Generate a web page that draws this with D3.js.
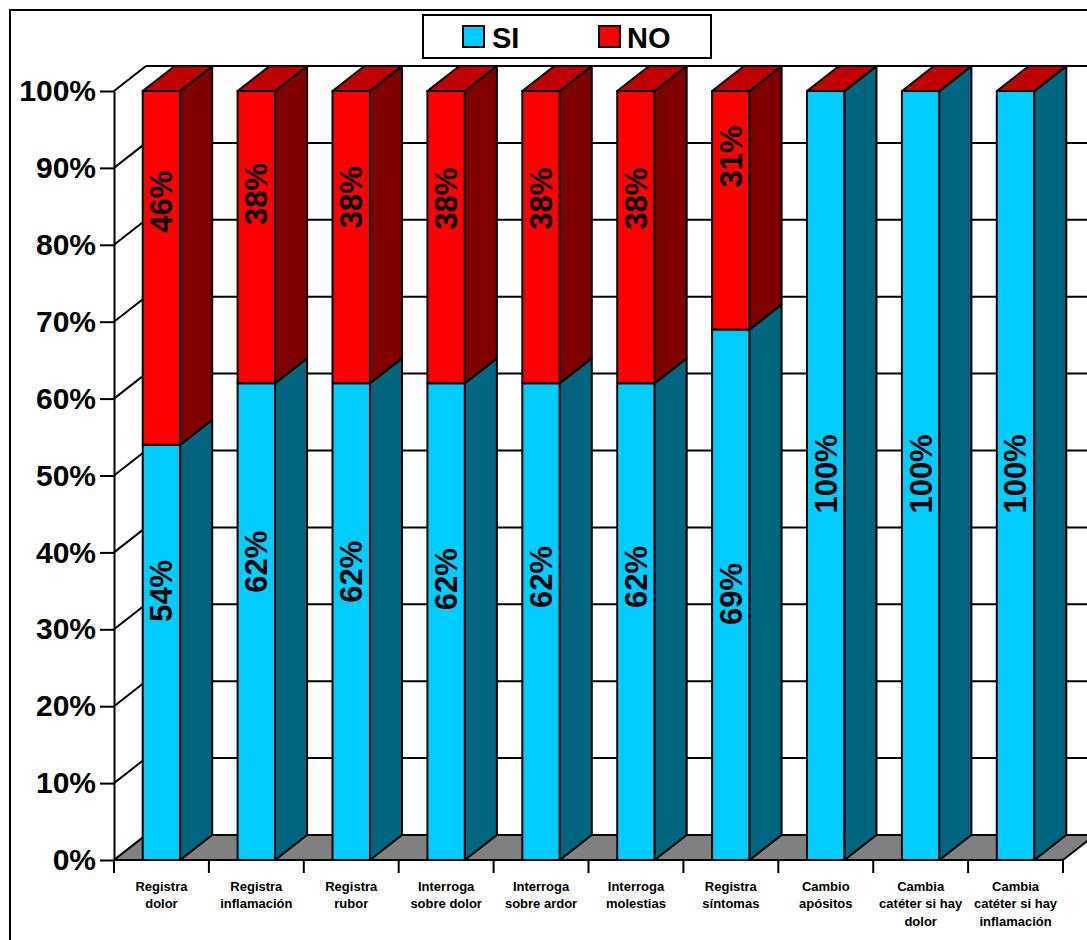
<!DOCTYPE html>
<html>
<head>
<meta charset="utf-8">
<script src="https://cdn.jsdelivr.net/npm/d3@7"></script>
<style>
  html, body { margin: 0; padding: 0; background: #fff; }
  svg { display: block; font-family: "Liberation Sans", Arial, Helvetica, sans-serif; }
</style>
</head>
<body>
<svg id="chart" width="1087" height="940"></svg>
<script>
// ---- data ----
const categories = [
  "Registra\ndolor",
  "Registra\ninflamación",
  "Registra\nrubor",
  "Interroga\nsobre dolor",
  "Interroga\nsobre ardor",
  "Interroga\nmolestias",
  "Registra\nsíntomas",
  "Cambio\napósitos",
  "Cambia\ncatéter si hay\ndolor",
  "Cambia\ncatéter si hay\ninflamación"
];
const siValues = [54, 62, 62, 62, 62, 62, 69, 100, 100, 100];
const noValues = [46, 38, 38, 38, 38, 38, 31, 0, 0, 0];
const seriesNames = ["SI", "NO"];
const yTicks = [0, 10, 20, 30, 40, 50, 60, 70, 80, 90, 100];

// ---- layout ----
const plot = { left: 114, right: 1063, top: 91, bottom: 860 };
const depth = { dx: 32, dy: -25 };
// where each value label sits along the axis (percent units)
const siLabelAt = [35, 38.8, 37.5, 36.5, 36.8, 36.8, 34.6, 50.2, 50.2, 50.2];
const noLabelAt = [85.6, 86.6, 86.2, 86, 86, 86, 91.5, 0, 0, 0];

const colors = {
  SI: { front: "#00CCFF", side: "#006680", top: "#33D6FF" },
  NO: { front: "#FF0000", side: "#800000", top: "#C00000" },
  floor: "#808080"
};

const svg = d3.select("#chart");

const y = d3.scaleLinear().domain([0, 100]).range([plot.bottom, plot.top]);
const x = d3.scaleBand().domain(categories).range([plot.left, plot.right]).padding(0);
const barW = x.bandwidth() * 0.395;

// outer frame
svg.append("rect")
  .attr("x", 10).attr("y", 10).attr("width", 1100).attr("height", 960)
  .attr("fill", "#fff").attr("stroke", "#000").attr("stroke-width", 2);

const g = svg.append("g");

// back wall gridlines and left wall diagonals
const backRight = plot.right + depth.dx;
yTicks.forEach(v => {
  g.append("line")
    .attr("x1", plot.left + depth.dx).attr("x2", backRight)
    .attr("y1", y(v) + depth.dy).attr("y2", y(v) + depth.dy)
    .attr("stroke", "#000").attr("stroke-width", 2);
  g.append("line")
    .attr("x1", plot.left).attr("x2", plot.left + depth.dx)
    .attr("y1", y(v)).attr("y2", y(v) + depth.dy)
    .attr("stroke", "#000").attr("stroke-width", 2);
});

// floor
const y0 = y(0);
g.append("path")
  .attr("d", `M${plot.left},${y0}L${plot.right},${y0}L${plot.right + depth.dx},${y0 + depth.dy}L${plot.left + depth.dx},${y0 + depth.dy}Z`)
  .attr("fill", colors.floor).attr("stroke", "#000").attr("stroke-width", 2)
  .attr("stroke-linejoin", "round");

// y axis
const yAxis = d3.axisLeft(y)
  .tickValues(yTicks)
  .tickFormat(d => d + "%")
  .tickSize(14)
  .tickSizeOuter(0)
  .tickPadding(4);
const yAxisG = g.append("g")
  .attr("transform", `translate(${plot.left},0)`)
  .call(yAxis);
yAxisG.select(".domain").attr("stroke", "#000").attr("stroke-width", 2);
yAxisG.selectAll(".tick line").attr("stroke", "#000").attr("stroke-width", 2);
yAxisG.selectAll(".tick text")
  .attr("font-family", "'Liberation Sans', Arial, sans-serif")
  .attr("font-size", 30).attr("font-weight", "bold").attr("fill", "#000");

// x axis: category boundaries and labels
const xAxisG = g.append("g");
xAxisG.append("line")
  .attr("x1", plot.left).attr("x2", plot.right)
  .attr("y1", y0).attr("y2", y0)
  .attr("stroke", "#000").attr("stroke-width", 2);
const bounds = categories.map(c => x(c)).concat([plot.right]);
bounds.forEach(bx => {
  xAxisG.append("line")
    .attr("x1", bx).attr("x2", bx).attr("y1", y0).attr("y2", y0 + 13)
    .attr("stroke", "#000").attr("stroke-width", 2);
});
categories.forEach(c => {
  const t = xAxisG.append("text")
    .attr("x", x(c) + x.bandwidth() / 2)
    .attr("y", 891)
    .attr("text-anchor", "middle")
    .attr("font-size", 13).attr("font-weight", "bold").attr("fill", "#000");
  c.split("\n").forEach((line, i) => {
    t.append("tspan")
      .attr("x", x(c) + x.bandwidth() / 2)
      .attr("dy", i === 0 ? 0 : 17.3)
      .text(line);
  });
});

// 3D stacked bars
function box(sel, x0, yTop, yBot, col, drawTop, topColor) {
  const w = barW, dx = depth.dx, dy = depth.dy;
  // front face
  sel.append("path")
    .attr("d", `M${x0},${yBot}L${x0 + w},${yBot}L${x0 + w},${yTop}L${x0},${yTop}Z`)
    .attr("fill", col.front).attr("stroke", "#000").attr("stroke-width", 2).attr("stroke-linejoin", "round");
  // side face
  sel.append("path")
    .attr("d", `M${x0 + w},${yBot}L${x0 + w + dx},${yBot + dy}L${x0 + w + dx},${yTop + dy}L${x0 + w},${yTop}Z`)
    .attr("fill", col.side).attr("stroke", "#000").attr("stroke-width", 2).attr("stroke-linejoin", "round");
  if (drawTop) {
    sel.append("path")
      .attr("d", `M${x0},${yTop}L${x0 + w},${yTop}L${x0 + w + dx},${yTop + dy}L${x0 + dx},${yTop + dy}Z`)
      .attr("fill", topColor).attr("stroke", "#000").attr("stroke-width", 2).attr("stroke-linejoin", "round");
  }
}

const bars = g.append("g");
categories.forEach((c, i) => {
  const bx = x(c) + (x.bandwidth() - barW) / 2;
  const bg = bars.append("g");
  const si = siValues[i], no = noValues[i];
  box(bg, bx, y(si), y(0), colors.SI, false);
  if (no > 0) box(bg, bx, y(si + no), y(si), colors.NO, false);
  // cap of the stack
  box(bg.append("g"), bx, y(si + no), y(si + no), colors.NO, true, colors.NO.top);
});

// value labels
const labels = g.append("g")
  .attr("font-size", 31).attr("font-weight", "bold").attr("fill", "#000");
categories.forEach((c, i) => {
  const cx = x(c) + x.bandwidth() / 2;
  const add = (val, at) => {
    const cy = y(at);
    labels.append("text")
      .attr("transform", `translate(${cx},${cy}) rotate(-90)`)
      .attr("text-anchor", "middle")
      .attr("dy", "0.35em")
      .text(val + "%");
  };
  add(siValues[i], siLabelAt[i]);
  if (noValues[i] > 0) add(noValues[i], noLabelAt[i]);
});

// legend
const legend = svg.append("g");
legend.append("rect")
  .attr("x", 423).attr("y", 15).attr("width", 288).attr("height", 43)
  .attr("fill", "#fff").attr("stroke", "#000").attr("stroke-width", 2);
const legendItems = [
  { name: seriesNames[0], color: colors.SI.front, sx: 463, tx: 492 },
  { name: seriesNames[1], color: colors.NO.front, sx: 599, tx: 627 }
];
legendItems.forEach(it => {
  legend.append("rect")
    .attr("x", it.sx).attr("y", 26).attr("width", 21).attr("height", 21)
    .attr("fill", it.color).attr("stroke", "#000").attr("stroke-width", 2);
  legend.append("text")
    .attr("x", it.tx).attr("y", 48)
    .attr("font-size", 29).attr("font-weight", "bold").attr("fill", "#000")
    .text(it.name);
});
</script>
</body>
</html>
